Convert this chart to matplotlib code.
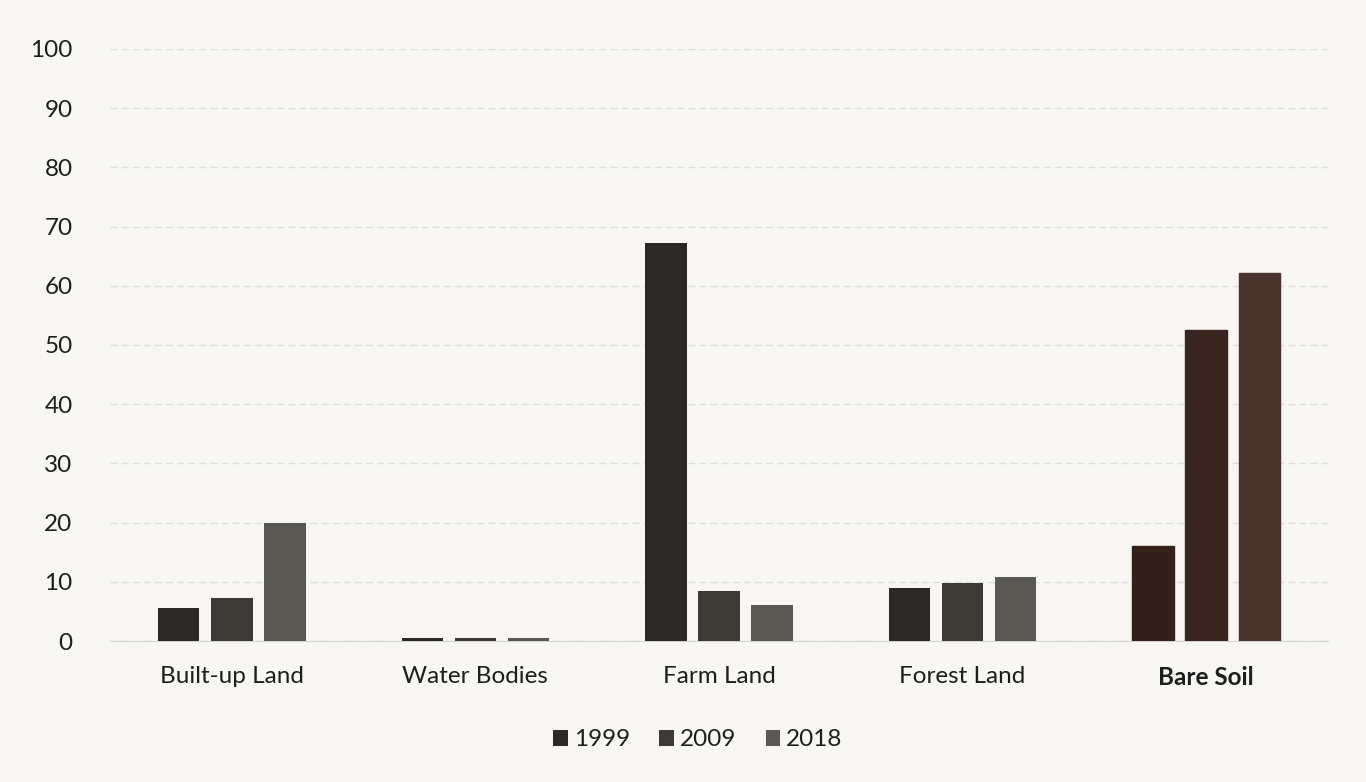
import matplotlib
matplotlib.use("Agg")
import matplotlib.pyplot as plt
import numpy as np

categories = ["Built-up Land", "Water Bodies", "Farm Land", "Forest Land", "Bare Soil"]
years = ["1999", "2009", "2018"]
v1999 = [5.5, 0.5, 67.2, 9.0, 16.0]
v2009 = [7.3, 0.5, 8.4, 9.8, 52.5]
v2018 = [20.0, 0.5, 6.0, 10.8, 62.2]
yticks = [0, 10, 20, 30, 40, 50, 60, 70, 80, 90, 100]

plt.rcParams['font.family'] = ['Lato', 'DejaVu Sans']
fig = plt.figure(figsize=(13.66, 7.82), dpi=100)
fig.patch.set_facecolor("#f7f6f2")
ax = fig.add_axes([110/1366, 1 - 641/782, (1328-110)/1366, (641-49)/782])
ax.set_facecolor("#f7f6f2")

colors = ["#2b2825", "#3d3935", "#5a5853"]
x = np.arange(len(categories))
w = 0.17
step = 0.218
series = [v1999, v2009, v2018]
containers = []
for i, (vals, c, lab) in enumerate(zip(series, colors, years)):
    bars = ax.bar(x + (i - 1) * step, vals, width=w, color=c, label=lab, zorder=3)
    containers.append(bars)

# Bare Soil bars appear brownish in the print
brown = ["#33201b", "#3a241f", "#4a322c"]
for i, bars in enumerate(containers):
    bars[4].set_color(brown[i])

ax.set_ylim(0, 100)
ax.set_xlim(-0.5, len(categories) - 0.5)
ax.set_yticks(yticks)
ax.set_yticklabels([str(t) for t in yticks], fontsize=17.5, color="#1e1e1e")
ax.set_xticks(x)
ax.set_xticklabels(categories, fontsize=17.5, color="#1e1e1e")
ax.get_xticklabels()[4].set_fontweight("bold")
ax.tick_params(axis='both', length=0)
ax.tick_params(axis='y', pad=27)
ax.tick_params(axis='x', pad=18)
for s in ["top", "right", "left"]:
    ax.spines[s].set_visible(False)
ax.spines["bottom"].set_color("#d4d4d0")
ax.yaxis.grid(True, color="#dddddb", linewidth=1, linestyle=(0, (5, 3)), zorder=0)
ax.set_axisbelow(True)

leg = fig.legend(loc="center", bbox_to_anchor=(698/1366, 1 - 740/782), ncol=3, frameon=False,
                 fontsize=17.5, handlelength=0.6, handleheight=0.6, handletextpad=0.25, columnspacing=1.2)
for t in leg.get_texts():
    t.set_color("#1e1e1e")

fig.savefig("out.png", dpi=100, facecolor=fig.get_facecolor())
